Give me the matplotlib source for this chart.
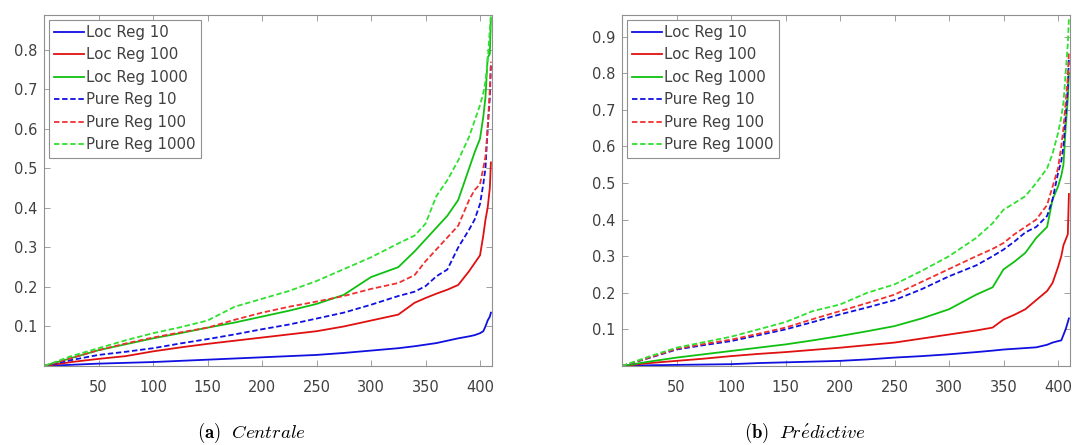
import matplotlib
matplotlib.use("Agg")
import matplotlib.pyplot as plt

plt.rcParams['mathtext.fontset'] = 'cm'

# ---------------- data ----------------
x_knots = [0, 25, 50, 75, 100, 125, 150, 175, 200, 225, 250, 275, 300, 325,
           340, 350, 360, 370, 380, 390, 395, 400, 403, 405, 407, 409, 410]

# Panel (a) Centrale
a_loc10 = [0, 0.003, 0.006, 0.008, 0.010, 0.013, 0.016, 0.019, 0.022, 0.025, 0.028, 0.033, 0.039, 0.045,
           0.050, 0.054, 0.058, 0.064, 0.070, 0.075, 0.078, 0.083, 0.088, 0.100, 0.115, 0.125, 0.135]
a_loc100 = [0, 0.010, 0.018, 0.025, 0.037, 0.047, 0.056, 0.064, 0.072, 0.080, 0.088, 0.100, 0.115, 0.130,
            0.160, 0.172, 0.183, 0.193, 0.205, 0.240, 0.260, 0.280, 0.330, 0.370, 0.400, 0.450, 0.515]
a_loc1000 = [0, 0.020, 0.040, 0.055, 0.070, 0.083, 0.097, 0.110, 0.125, 0.140, 0.157, 0.180, 0.225, 0.250,
             0.290, 0.320, 0.350, 0.380, 0.420, 0.500, 0.540, 0.575, 0.630, 0.680, 0.780, 0.790, 0.880]
a_pure10 = [0, 0.015, 0.028, 0.036, 0.045, 0.057, 0.068, 0.080, 0.093, 0.105, 0.120, 0.135, 0.155, 0.177,
            0.188, 0.202, 0.227, 0.244, 0.300, 0.345, 0.370, 0.410, 0.460, 0.500, 0.600, 0.680, 0.760]
a_pure100 = [0, 0.020, 0.040, 0.057, 0.072, 0.085, 0.097, 0.117, 0.135, 0.150, 0.163, 0.177, 0.195, 0.210,
             0.230, 0.265, 0.295, 0.325, 0.355, 0.420, 0.445, 0.460, 0.500, 0.530, 0.600, 0.700, 0.770]
a_pure1000 = [0, 0.025, 0.045, 0.065, 0.083, 0.098, 0.115, 0.150, 0.170, 0.190, 0.215, 0.245, 0.275, 0.310,
              0.330, 0.360, 0.430, 0.470, 0.520, 0.580, 0.620, 0.660, 0.690, 0.720, 0.770, 0.850, 0.890]

# Panel (b) Predictive
b_loc10 = [0, 0.002, 0.003, 0.004, 0.005, 0.008, 0.010, 0.012, 0.014, 0.018, 0.023, 0.027, 0.032, 0.038,
           0.042, 0.045, 0.047, 0.049, 0.051, 0.058, 0.064, 0.068, 0.070, 0.085, 0.100, 0.120, 0.130]
b_loc100 = [0, 0.008, 0.014, 0.020, 0.027, 0.033, 0.038, 0.044, 0.050, 0.057, 0.064, 0.075, 0.086, 0.097,
            0.105, 0.127, 0.140, 0.155, 0.180, 0.205, 0.227, 0.270, 0.300, 0.330, 0.345, 0.360, 0.470]
b_loc1000 = [0, 0.012, 0.023, 0.032, 0.041, 0.050, 0.059, 0.070, 0.082, 0.095, 0.109, 0.130, 0.155, 0.195,
             0.215, 0.264, 0.285, 0.309, 0.350, 0.380, 0.455, 0.490, 0.520, 0.550, 0.650, 0.730, 0.800]
b_pure10 = [0, 0.022, 0.045, 0.057, 0.068, 0.084, 0.100, 0.120, 0.141, 0.160, 0.180, 0.210, 0.245, 0.275,
            0.300, 0.318, 0.340, 0.365, 0.380, 0.410, 0.455, 0.527, 0.560, 0.600, 0.680, 0.760, 0.840]
b_pure100 = [0, 0.023, 0.047, 0.060, 0.072, 0.088, 0.105, 0.128, 0.150, 0.172, 0.195, 0.230, 0.265, 0.300,
             0.320, 0.336, 0.360, 0.380, 0.400, 0.440, 0.490, 0.540, 0.600, 0.650, 0.720, 0.790, 0.860]
b_pure1000 = [0, 0.026, 0.050, 0.065, 0.080, 0.100, 0.120, 0.150, 0.168, 0.200, 0.223, 0.260, 0.300, 0.350,
              0.390, 0.427, 0.445, 0.464, 0.500, 0.540, 0.580, 0.636, 0.680, 0.720, 0.800, 0.880, 0.950]

labels = ['Loc Reg 10', 'Loc Reg 100', 'Loc Reg 1000',
          'Pure Reg 10', 'Pure Reg 100', 'Pure Reg 1000']
x_ticks = [50, 100, 150, 200, 250, 300, 350, 400]
a_yticks = [0.1, 0.2, 0.3, 0.4, 0.5, 0.6, 0.7, 0.8]
b_yticks = [0.1, 0.2, 0.3, 0.4, 0.5, 0.6, 0.7, 0.8, 0.9]
captions = [r'$\mathbf{(a)}\ \ \mathit{Centrale}$', r'$\mathbf{(b)}\ \ \mathit{Pr\acute{e}dictive}$']

# ---------------- styling ----------------
colors = ['#1010e0', '#e01010', '#10c010', '#1010e0', '#f03030', '#30e030']
styles = ['-', '-', '-', (0, (3, 1.5)), (0, (3, 1.5)), (0, (3, 1.5))]

fig = plt.figure(figsize=(10.76, 4.45), dpi=100)
W, H = 1076, 445
axA = fig.add_axes([44 / W, (H - 366) / H, 448 / W, 351 / H])
axB = fig.add_axes([622 / W, (H - 366) / H, 448 / W, 351 / H])

panels = [
    (axA, [a_loc10, a_loc100, a_loc1000, a_pure10, a_pure100, a_pure1000], a_yticks, 0.888, 251),
    (axB, [b_loc10, b_loc100, b_loc1000, b_pure10, b_pure100, b_pure1000], b_yticks, 0.959, 805),
]

for i, (ax, series, yt, ytop, capx) in enumerate(panels):
    for s, c, ls, lab in zip(series, colors, styles, labels):
        ax.plot(x_knots, s, color=c, linestyle=ls, linewidth=1.3, label=lab)
    ax.set_xlim(0, 411)
    ax.set_ylim(0, ytop)
    ax.set_xticks(x_ticks)
    ax.set_yticks(yt)
    ax.set_yticklabels([f'{v:.1f}' for v in yt])
    ax.tick_params(direction='in', length=4, width=0.6, color='#909090',
                   labelsize=10.5, labelcolor='#404040', top=True, right=True, pad=5)
    ax.tick_params(axis='x', pad=10)
    for sp in ax.spines.values():
        sp.set_color('#909090')
        sp.set_linewidth(0.8)
    leg = ax.legend(loc='upper left', fontsize=10.8, handlelength=2.0, handletextpad=0.15,
                    labelspacing=0.5, borderpad=0.35, borderaxespad=0.3, fancybox=False,
                    framealpha=1, edgecolor='#909090')
    leg.get_frame().set_linewidth(0.8)
    for t in leg.get_texts():
        t.set_color('#404040')
    fig.text(capx / W, (H - 433) / H, captions[i], ha='center', va='center', fontsize=13.5)

fig.savefig('out.png', dpi=100)
